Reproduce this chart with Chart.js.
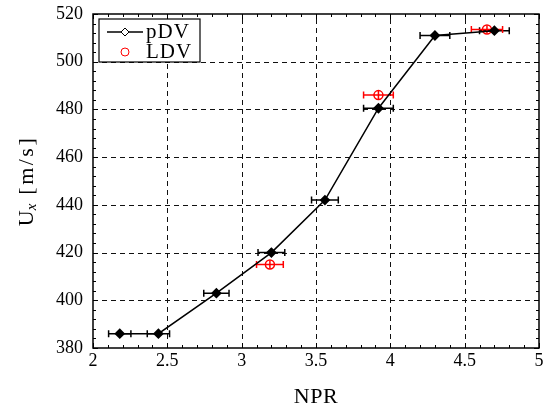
<!DOCTYPE html>
<html>
<head>
<meta charset="utf-8">
<script src="https://cdn.jsdelivr.net/npm/chart.js@4/dist/chart.umd.min.js"></script>
<style>
  html, body { margin: 0; padding: 0; background: #fff; }
  #chart { display: block; }
</style>
</head>
<body>
<canvas id="chart" width="545" height="411"></canvas>
<script>
// pDV measurements
const nprPdv = [2.18, 2.44, 2.83, 3.20, 3.56, 3.92, 4.30, 4.70];
const uPdv = [386, 386, 403, 420, 442, 480.5, 511, 513];
const errPdv = [0.075, 0.075, 0.085, 0.09, 0.09, 0.1, 0.1, 0.1];

// LDV measurements
const nprLdv = [3.19, 3.92, 4.65];
const uLdv = [415, 486, 513.5];
const errLdv = [0.09, 0.1, 0.105];

const xTicks = [2, 2.5, 3, 3.5, 4, 4.5, 5];
const yTicks = [380, 400, 420, 440, 460, 480, 500, 520];

const serif = '"Liberation Serif", "DejaVu Serif", serif';

const toPoints = (xs, ys) => xs.map((x, i) => ({ x: x, y: ys[i] }));

function drawErrorBars(chart, xs, ys, errs, color) {
    const ctx = chart.ctx;
    const sx = chart.scales.x, sy = chart.scales.y;
    ctx.save();
    ctx.strokeStyle = color;
    ctx.lineWidth = 1.5;
    xs.forEach((x, i) => {
        const y = sy.getPixelForValue(ys[i]);
        const x0 = sx.getPixelForValue(x - errs[i]);
        const x1 = sx.getPixelForValue(x + errs[i]);
        ctx.beginPath();
        ctx.moveTo(x0, y); ctx.lineTo(x1, y);
        ctx.moveTo(x0, y - 3.5); ctx.lineTo(x0, y + 3.5);
        ctx.moveTo(x1, y - 3.5); ctx.lineTo(x1, y + 3.5);
        // small vertical stroke through the marker
        const xc = sx.getPixelForValue(x);
        ctx.moveTo(xc, y - 4); ctx.lineTo(xc, y + 4);
        ctx.stroke();
    });
    ctx.restore();
}

const framePlugin = {
    id: 'frame',
    beforeDatasetsDraw(chart) {
        const ctx = chart.ctx;
        const a = chart.chartArea;
        const sx = chart.scales.x, sy = chart.scales.y;
        ctx.save();
        ctx.strokeStyle = '#111';
        ctx.lineWidth = 1;
        ctx.setLineDash([5, 4]);
        xTicks.slice(1, -1).forEach(v => {
            const px = Math.round(sx.getPixelForValue(v)) + 0.5;
            ctx.beginPath(); ctx.moveTo(px, a.bottom); ctx.lineTo(px, a.top); ctx.stroke();
        });
        yTicks.slice(1, -1).forEach(v => {
            const py = Math.round(sy.getPixelForValue(v)) + 0.5;
            ctx.beginPath(); ctx.moveTo(a.left, py); ctx.lineTo(a.right, py); ctx.stroke();
        });
        ctx.restore();
        drawErrorBars(chart, nprPdv, uPdv, errPdv, '#000');
        drawErrorBars(chart, nprLdv, uLdv, errLdv, '#ff0000');
    },
    afterDatasetsDraw(chart) {
        const ctx = chart.ctx;
        const a = chart.chartArea;
        const sx = chart.scales.x, sy = chart.scales.y;
        ctx.save();
        ctx.strokeStyle = '#000';
        ctx.lineWidth = 1;
        // ticks inside the box, all four sides
        for (let v = 2; v <= 5.0001; v += 0.1) {
            const major = Math.abs(v * 2 - Math.round(v * 2)) < 1e-6;
            const len = major ? 5 : 3;
            const px = Math.round(sx.getPixelForValue(v)) + 0.5;
            ctx.beginPath();
            ctx.moveTo(px, a.bottom); ctx.lineTo(px, a.bottom - len);
            ctx.moveTo(px, a.top); ctx.lineTo(px, a.top + len);
            ctx.stroke();
        }
        for (let v = 380; v <= 520; v += 4) {
            const major = v % 20 === 0;
            const len = major ? 5 : 3;
            const py = Math.round(sy.getPixelForValue(v)) + 0.5;
            ctx.beginPath();
            ctx.moveTo(a.left, py); ctx.lineTo(a.left + len, py);
            ctx.moveTo(a.right, py); ctx.lineTo(a.right - len, py);
            ctx.stroke();
        }
        ctx.lineWidth = 1.5;
        ctx.strokeRect(a.left, a.top, a.right - a.left, a.bottom - a.top);

        // legend
        const lx = a.left + 6, ly = a.top + 5, lw = 101, lh = 43;
        ctx.fillStyle = '#fff';
        ctx.fillRect(lx, ly, lw, lh);
        ctx.lineWidth = 1.2;
        ctx.strokeRect(lx, ly, lw, lh);
        ctx.lineWidth = 1.5;
        ctx.beginPath(); ctx.moveTo(lx + 8, ly + 13); ctx.lineTo(lx + 44, ly + 13); ctx.stroke();
        const dx = lx + 26, dy = ly + 13;
        ctx.beginPath();
        ctx.moveTo(dx, dy - 4); ctx.lineTo(dx + 4, dy); ctx.lineTo(dx, dy + 4); ctx.lineTo(dx - 4, dy); ctx.closePath();
        ctx.fillStyle = '#fff'; ctx.fill(); ctx.lineWidth = 1; ctx.stroke();
        ctx.strokeStyle = '#ff0000';
        ctx.beginPath(); ctx.arc(lx + 26, ly + 33, 4, 0, Math.PI * 2); ctx.stroke();
        ctx.fillStyle = '#000';
        ctx.font = '21px ' + serif;
        ctx.letterSpacing = '1px';
        ctx.textBaseline = 'middle';
        ctx.textAlign = 'left';
        ctx.fillText('pDV', lx + 47, ly + 13);
        ctx.fillText('LDV', lx + 47, ly + 33);
        ctx.restore();
    },
    afterDraw(chart) {
        const ctx = chart.ctx;
        const a = chart.chartArea;
        ctx.save();
        ctx.fillStyle = '#000';
        ctx.textBaseline = 'middle';
        ctx.textAlign = 'center';
        ctx.font = '22px ' + serif;
        ctx.letterSpacing = '0.5px';
        ctx.fillText('NPR', (a.left + a.right) / 2, 397);

        // y title: U_x [m/s]
        const big = '22px ' + serif, small = 'italic 15px ' + serif;
        ctx.letterSpacing = '0px';
        ctx.font = big;
        const wU = ctx.measureText('U').width;
        ctx.letterSpacing = '2.5px';
        const wRest = ctx.measureText(' [m/s]').width;
        ctx.letterSpacing = '0px';
        ctx.font = small;
        const wX = ctx.measureText('x').width + 1;
        const total = wU + wX + wRest;
        ctx.translate(27, (a.top + a.bottom) / 2);
        ctx.rotate(-Math.PI / 2);
        ctx.textAlign = 'left';
        let cx = -total / 2;
        ctx.font = big; ctx.fillText('U', cx, 0); cx += wU;
        ctx.font = small; ctx.fillText('x', cx, 5); cx += wX;
        ctx.letterSpacing = '2.5px';
        ctx.font = big; ctx.fillText(' [m/s]', cx, 0);
        ctx.restore();
    }
};

const chart = new Chart(document.getElementById('chart'), {
    type: 'scatter',
    data: {
        datasets: [{
            label: 'pDV',
            data: toPoints(nprPdv, uPdv),
            showLine: true,
            borderColor: '#000',
            borderWidth: 1.5,
            pointStyle: 'rectRot',
            pointRadius: 4,
            pointBorderWidth: 2,
            pointBackgroundColor: '#000',
            pointBorderColor: '#000'
        }, {
            label: 'LDV',
            data: toPoints(nprLdv, uLdv),
            showLine: false,
            pointStyle: 'circle',
            pointRadius: 4.5,
            pointBorderWidth: 1.5,
            pointBackgroundColor: 'rgba(0,0,0,0)',
            pointBorderColor: '#ff0000'
        }]
    },
    options: {
        responsive: false,
        animation: false,
        devicePixelRatio: 1,
        layout: { padding: { left: 0, right: 3, top: 14, bottom: 0 } },
        plugins: { legend: { display: false }, tooltip: { enabled: false } },
        scales: {
            x: {
                type: 'linear', min: 2, max: 5,
                grid: { display: false, drawTicks: false },
                border: { display: false },
                afterBuildTicks: s => { s.ticks = xTicks.map(v => ({ value: v })); },
                afterFit: s => { s.height = 63; s.paddingLeft = 0; s.paddingRight = 0; },
                ticks: {
                    autoSkip: false, maxRotation: 0, padding: 2,
                    callback: v => String(v),
                    color: '#000', font: { family: serif, size: 18 }
                }
            },
            y: {
                type: 'linear', min: 380, max: 520,
                grid: { display: false, drawTicks: false },
                border: { display: false },
                afterBuildTicks: s => { s.ticks = yTicks.map(v => ({ value: v })); },
                afterFit: s => { s.width = 93; s.paddingTop = 0; s.paddingBottom = 0; },
                ticks: {
                    padding: 10,
                    callback: v => String(v),
                    color: '#000', font: { family: serif, size: 18 }
                }
            }
        }
    },
    plugins: [framePlugin]
});
</script>
</body>
</html>
